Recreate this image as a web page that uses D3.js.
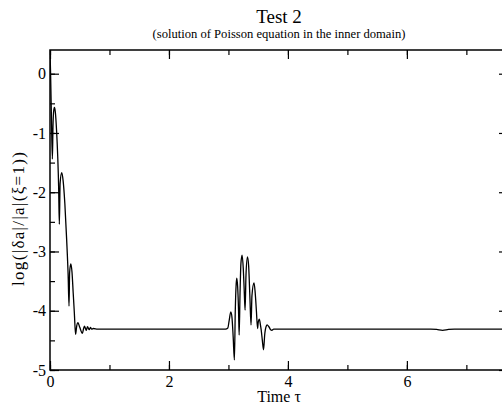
<!DOCTYPE html>
<html>
<head>
<meta charset="utf-8">
<script src="https://cdn.jsdelivr.net/npm/d3@7"></script>
<style>
  body { margin: 0; background: #fff; }
  svg { display: block; font-family: "Liberation Serif", "Times New Roman", serif; }
  svg text { font-family: "Liberation Serif", "Times New Roman", serif; }
</style>
</head>
<body>
<div class="chart-container"></div>
<script>
// values
const time = [
  0, 0.01, 0.025, 0.04, 0.05, 0.06, 0.075, 0.09, 0.11, 0.13, 0.145, 0.157,
  0.17, 0.197, 0.22, 0.25, 0.28, 0.305, 0.32,
  0.33, 0.35, 0.37, 0.39, 0.41, 0.43,
  0.45, 0.47, 0.50, 0.545, 0.565, 0.58, 0.61, 0.63, 0.66, 0.68, 0.70, 0.73, 0.8,
  1.5, 2.95, 2.99, 3.01, 3.04, 3.06, 3.08, 3.10, 3.115, 3.13, 3.14, 3.155, 3.17, 3.18,
  3.195, 3.21, 3.23, 3.25, 3.265, 3.28, 3.295, 3.32, 3.34, 3.36, 3.38,
  3.395, 3.43, 3.45, 3.47, 3.49, 3.50, 3.52, 3.535, 3.55, 3.57, 3.59,
  3.61, 3.635, 3.65, 3.68, 3.71, 3.73, 3.76,
  5.0, 6.4, 6.5, 6.6, 6.7, 6.8, 7.7
];
const logErr = [
  0.38, 0.0, -0.8, -1.44, -0.9, -0.65, -0.57, -0.65, -0.95, -1.4, -1.9, -2.54,
  -1.85, -1.67, -1.8, -2.2, -2.8, -3.4, -3.92,
  -3.35, -3.21, -3.35, -3.7, -4.05, -4.40,
  -4.25, -4.2, -4.28, -4.38, -4.3, -4.26, -4.33, -4.27, -4.32, -4.28, -4.31, -4.30, -4.31,
  -4.31, -4.31, -4.29, -4.18, -4.02, -4.12, -4.45, -4.83, -4.0, -3.55, -3.45, -3.6, -4.0, -4.41,
  -3.7, -3.2, -3.06, -3.3, -3.65, -3.99, -3.4, -3.09, -3.25, -3.75, -4.24,
  -3.75, -3.53, -3.7, -4.0, -4.30, -4.2, -4.14, -4.22, -4.32, -4.5, -4.66,
  -4.4, -4.26, -4.24, -4.27, -4.32, -4.33, -4.31,
  -4.31, -4.31, -4.315, -4.33, -4.315, -4.31, -4.31
];
const xTicks = [0, 2, 4, 6];
const yTicks = [0, -1, -2, -3, -4, -5];
const titleText = "Test 2";
const subtitleText = "(solution of Poisson equation in the inner domain)";
const xLabel = "Time \u03c4";
const yLabel = "log(|\u03b4a|/|a|(\u03be=1))";

function draw() {
    const width = 502;
    const height = 403;
    const marginLeft = 50;
    const marginTop = 50;
    const plotRight = 508;   // frame runs past the window edge
    const plotBottom = 370;

    const x = d3.scaleLinear().domain([0, 7.7]).range([marginLeft, plotRight]);
    const y = d3.scaleLinear().domain([-5, 0.4]).range([plotBottom, marginTop]);

    const svg = d3.select('.chart-container').append('svg')
        .attr('width', width)
        .attr('height', height);

    const xMinor = d3.range(0, 8, 1);
    const yMinor = d3.range(-5, 0.5, 0.5);

    // bottom axis
    svg.append('g')
        .attr('transform', `translate(0,${plotBottom})`)
        .call(d3.axisBottom(x).tickValues(xMinor).tickSize(-5).tickFormat(''))
        .call(g => g.select('.domain').remove());
    svg.append('g')
        .attr('transform', `translate(0,${plotBottom})`)
        .call(d3.axisBottom(x).tickValues(xTicks).tickSize(-9).tickPadding(6).tickFormat(d => String(d)))
        .call(g => g.select('.domain').remove());

    // top axis (ticks only)
    svg.append('g')
        .attr('transform', `translate(0,${marginTop})`)
        .call(d3.axisTop(x).tickValues(xMinor).tickSize(-5).tickFormat(''))
        .call(g => g.select('.domain').remove());
    svg.append('g')
        .attr('transform', `translate(0,${marginTop})`)
        .call(d3.axisTop(x).tickValues(xTicks).tickSize(-9).tickFormat(''))
        .call(g => g.select('.domain').remove());

    // left axis
    svg.append('g')
        .attr('transform', `translate(${marginLeft},0)`)
        .call(d3.axisLeft(y).tickValues(yMinor).tickSize(-5).tickFormat(''))
        .call(g => g.select('.domain').remove());
    svg.append('g')
        .attr('transform', `translate(${marginLeft},0)`)
        .call(d3.axisLeft(y).tickValues(yTicks).tickSize(-9).tickPadding(4).tickFormat(d => String(d)))
        .call(g => g.select('.domain').remove());

    // right axis (ticks only)
    svg.append('g')
        .attr('transform', `translate(${plotRight},0)`)
        .call(d3.axisRight(y).tickValues(yMinor).tickSize(-5).tickFormat(''))
        .call(g => g.select('.domain').remove());
    svg.append('g')
        .attr('transform', `translate(${plotRight},0)`)
        .call(d3.axisRight(y).tickValues(yTicks).tickSize(-9).tickFormat(''))
        .call(g => g.select('.domain').remove());

    svg.selectAll('g').attr('font-family', null);
    svg.selectAll('.tick line').attr('stroke', '#000').attr('stroke-width', 1.2);
    svg.selectAll('.tick text')
        .attr('font-size', 16)
        .attr('fill', '#000');

    // the curve
    const points = time.map((t, i) => [t, logErr[i]]);
    const line = d3.line()
        .x(d => x(d[0]))
        .y(d => y(d[1]))
        .curve(d3.curveMonotoneX);

    svg.append('defs').append('clipPath').attr('id', 'plot-clip')
        .append('rect')
        .attr('x', marginLeft).attr('y', marginTop)
        .attr('width', plotRight - marginLeft).attr('height', plotBottom - marginTop);

    svg.append('path')
        .datum(points)
        .attr('clip-path', 'url(#plot-clip)')
        .attr('fill', 'none')
        .attr('stroke', '#000')
        .attr('stroke-width', 1.3)
        .attr('stroke-linejoin', 'round')
        .attr('d', line);

    // frame
    svg.append('rect')
        .attr('x', marginLeft).attr('y', marginTop)
        .attr('width', plotRight - marginLeft).attr('height', plotBottom - marginTop)
        .attr('fill', 'none')
        .attr('stroke', '#000')
        .attr('stroke-width', 1.5);

    // titles
    svg.append('text')
        .attr('x', 279).attr('y', 22.5)
        .attr('text-anchor', 'middle')
        .attr('font-size', 19)
        .text(titleText);
    svg.append('text')
        .attr('x', 279).attr('y', 37.5)
        .attr('text-anchor', 'middle')
        .attr('font-size', 12.6)
        .text(subtitleText);

    svg.append('text')
        .attr('x', 279).attr('y', 402)
        .attr('text-anchor', 'middle')
        .attr('font-size', 16)
        .text(xLabel);

    svg.append('text')
        .attr('transform', 'translate(24,219) rotate(-90)')
        .attr('text-anchor', 'middle')
        .attr('font-size', 17)
        .attr('textLength', 134)
        .attr('lengthAdjust', 'spacing')
        .text(yLabel);
}

draw();
</script>
</body>
</html>
